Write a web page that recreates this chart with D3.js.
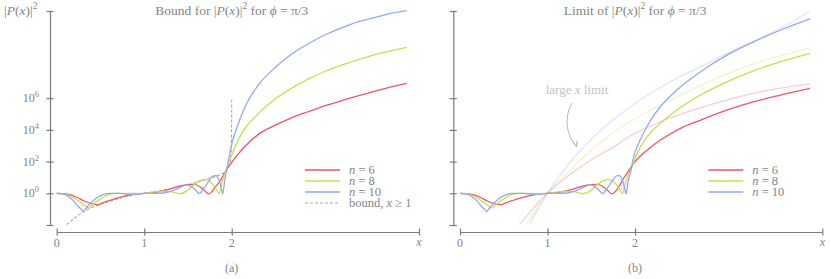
<!DOCTYPE html>
<html>
<head>
<meta charset="utf-8">
<script src="https://cdn.jsdelivr.net/npm/d3@7/dist/d3.min.js"></script>
<style>
body { margin: 0; background: #fff; }
svg text { fill: #858585; }
</style>
</head>
<body>
<script>
// points are [x, log10 |P(x)|^2]
// x < 2 part is the same in both panels
const n6Low = [[0,0],[0.11,-0.04],[0.23,-0.25],[0.32,-0.5],[0.40,-0.67],[0.46,-0.72],[0.55,-0.55],[0.69,-0.3],[0.84,-0.1],[1.0,0],[1.14,0.08],[1.26,0.22],[1.37,0.4],[1.49,0.55],[1.57,0.56],[1.64,0.4],[1.70,0.12],[1.735,-0.04],[1.77,0.08],[1.82,0.45]];
const n8Low = [[0,0],[0.1,-0.05],[0.2,-0.3],[0.29,-0.65],[0.345,-0.88],[0.36,-0.93],[0.375,-0.88],[0.42,-0.68],[0.5,-0.35],[0.59,-0.08],[0.7,0.0],[0.8,0.0],[0.9,-0.01],[1.0,0],[1.1,0.08],[1.2,0.13],[1.3,0.1],[1.41,-0.02],[1.48,0.12],[1.55,0.45],[1.62,0.75],[1.69,0.88],[1.75,0.75],[1.8,0.45],[1.835,0.15],[1.855,-0.02]];
const n10Low = [[0,0],[0.095,-0.08],[0.19,-0.46],[0.25,-0.85],[0.29,-1.06],[0.305,-1.16],[0.32,-1.06],[0.36,-0.78],[0.44,-0.36],[0.53,-0.08],[0.61,0],[0.72,0],[0.84,-0.07],[0.91,-0.07],[1.0,0],[1.1,0.0],[1.22,0.02],[1.31,0.13],[1.41,0.38],[1.49,0.53],[1.54,0.42],[1.6,0.13],[1.63,-0.02],[1.68,0.3],[1.73,0.7],[1.79,1.1],[1.82,1.12],[1.85,0.9],[1.88,0.35],[1.897,-0.04]];

// panel (a) tails
const n6TailA = [[1.87,0.8],[1.93,1.4],[2.0,1.95],[2.07,2.45],[2.15,2.95],[2.30,3.7],[2.5,4.3],[2.69,4.78],[2.88,5.16],[3.07,5.53],[3.26,5.85],[3.45,6.16],[3.64,6.44],[3.83,6.73],[4.0,6.94]];
const n8TailA = [[1.9,0.9],[1.96,1.85],[2.02,2.7],[2.11,3.75],[2.30,5.0],[2.5,5.96],[2.69,6.65],[2.88,7.22],[3.07,7.7],[3.26,8.1],[3.45,8.44],[3.64,8.75],[3.83,9.0],[4.0,9.21]];
const n10TailA = [[1.92,0.8],[1.96,2.0],[2.0,3.1],[2.06,4.16],[2.15,5.43],[2.3,6.8],[2.5,7.95],[2.69,8.8],[2.88,9.45],[3.07,10.0],[3.26,10.45],[3.45,10.83],[3.64,11.1],[3.83,11.36],[4.0,11.53]];
const bound = [[0.114,-1.98],[0.19,-1.62],[0.27,-1.3],[0.34,-1.05],[0.46,-0.78],[0.61,-0.5],[0.76,-0.25],[1.0,0],[1.22,0.21],[1.45,0.48],[1.6,0.69],[1.75,0.95],[1.87,1.18],[1.94,1.43],[1.98,1.9],[1.995,2.6],[2.0,5.9]];

// panel (b) tails
const n6TailB = [[1.87,0.95],[1.93,1.45],[1.985,1.89],[2.06,2.35],[2.14,2.73],[2.29,3.36],[2.52,4.1],[2.75,4.62],[3.055,5.26],[3.36,5.78],[3.665,6.2],[4.0,6.62]];
const n8TailB = [[1.9,0.85],[1.967,1.68],[2.024,2.52],[2.14,3.57],[2.29,4.42],[2.48,5.26],[2.75,6.2],[3.055,7.04],[3.36,7.74],[3.665,8.3],[4.0,8.83]];
const n10TailB = [[1.92,0.7],[1.947,1.3],[1.985,2.31],[2.06,3.36],[2.157,4.42],[2.29,5.46],[2.48,6.52],[2.75,7.67],[3.055,8.73],[3.36,9.57],[3.665,10.3],[4.0,11.0]];

// large x limits (panel b, faded)
const n6Limit = [[0.683,-1.94],[0.8,-1.2],[0.9,-0.55],[1.0,0],[1.2,0.95],[1.4,1.75],[1.6,2.45],[1.75,2.9],[1.91,3.5],[2.29,4.52],[2.67,5.26],[3.055,5.89],[3.44,6.41],[4.0,6.9]];
const n8Limit = [[0.764,-1.94],[0.85,-1.15],[0.93,-0.5],[1.0,0],[1.2,1.15],[1.45,2.5],[1.795,3.99],[2.18,5.26],[2.56,6.31],[2.94,7.26],[3.32,8.1],[3.7,8.73],[4.0,9.19]];
const n10Limit = [[0.80,-1.94],[0.87,-1.2],[0.94,-0.55],[1.0,0],[1.165,1.3],[1.41,2.9],[1.72,4.5],[2.06,5.89],[2.44,7.15],[2.83,8.2],[3.21,9.25],[3.59,10.2],[4.0,11.5]];

const xTicks = [0, 1, 2];
const xEnd = 4.14;
const yTickExps = [0, 2, 4, 6];
const yMinExp = -2, yMaxExp = 11.5;
const nValues = [6, 8, 10];

const colors = {6: "#ef5563", 8: "#cade4c", 10: "#93a9f2"};
const serif = "'Liberation Serif', 'Times New Roman', 'DejaVu Serif', serif";

let svg = d3.select("body")
    .append("svg")
    .attr("width", 831)
    .attr("height", 279)
    .attr("font-family", serif)
    .style("font-family", serif)

// text with italic / superscript pieces
const richText = (g, x, y, parts, anchor, size) => {
    let t = g.append("text")
        .attr("x", x)
        .attr("y", y)
        .attr("text-anchor", anchor || "start")
        .attr("font-size", size || 12)
        .style("font-family", serif)
    let raised = false;
    let lift = Math.round((size || 12) * 0.42);
    parts.forEach((p) => {
        let s = t.append("tspan").text(p[0]);
        if (p[1] === "i") s.style("font-style", "italic");
        if (p[1] === "sup") {
            s.attr("dy", -lift).attr("font-size", "0.7em");
            raised = true;
        } else if (raised) {
            s.attr("dy", lift);
            raised = false;
        }
    });
    return t;
}

const drawPanel = (left, opts) => {
    let x = d3.scaleLinear().domain([0, xEnd]).range([left + 6.7, left + 369]);
    let y = d3.scaleLog().domain([Math.pow(10, yMinExp), Math.pow(10, yMaxExp)]).range([225, 11]);
    let g = svg.append("g");

    let yAxis = g.append("g")
        .attr("transform", `translate(${left},0)`)
        .call(d3.axisLeft(y)
            .tickValues([yMinExp].concat(yTickExps, [yMaxExp]).map(e => Math.pow(10, e)))
            .tickSize(3.5)
            .tickSizeOuter(0)
            .tickFormat(""))
    yAxis.selectAll(".tick line").attr("x1", 3.5)
    yAxis.selectAll("path, line").attr("stroke", "#7a7a7a").attr("stroke-width", 1.2)

    if (opts.yLabels) {
        yTickExps.forEach((e) => {
            richText(g, left - 11, y(Math.pow(10, e)) + 4, [["10"], [String(e), "sup"]], "end", 12);
        });
        richText(g, 4, 15, [["|"], ["P", "i"], ["("], ["x", "i"], [")|"], ["2", "sup"]], "start", 13.5);
    }

    let xAxis = g.append("g")
        .attr("transform", "translate(0,232)")
        .call(d3.axisBottom(x)
            .tickValues(xTicks.concat([xEnd]))
            .tickSize(3.5)
            .tickSizeOuter(0)
            .tickFormat(""))
    xAxis.selectAll(".tick line").attr("y1", -3.5)
    xAxis.selectAll("path, line").attr("stroke", "#7a7a7a").attr("stroke-width", 1.2)
    xTicks.forEach((t) => {
        g.append("text").attr("x", x(t)).attr("y", 247).attr("text-anchor", "middle")
            .attr("font-size", 12).style("font-family", serif).text(t)
    });
    g.append("text").attr("x", x(xEnd)).attr("y", 246).attr("text-anchor", "middle")
        .attr("font-size", 12).style("font-family", serif).style("font-style", "italic").text("x")

    richText(g, (x(0) + x(xEnd)) / 2 - 6, 15, opts.title, "middle", 13.5);
    g.append("text").attr("x", x(2)).attr("y", 272).attr("text-anchor", "middle")
        .attr("font-size", 12).style("font-family", serif).text(opts.caption)

    let line = d3.line()
        .x(d => x(d[0]))
        .y(d => y(Math.pow(10, d[1])))
        .curve(d3.curveMonotoneX)

    if (opts.limits) {
        opts.limits.forEach((s) => {
            g.append("path").attr("d", line(s.data)).attr("fill", "none")
                .attr("stroke", colors[s.n]).attr("stroke-opacity", 0.3).attr("stroke-width", 1.3)
        });
    }
    if (opts.bound) {
        g.append("path").attr("d", line(opts.bound)).attr("fill", "none")
            .attr("stroke", "#a8a8a8").attr("stroke-width", 1.1).attr("stroke-dasharray", "3,2")
    }
    opts.series.forEach((s) => {
        g.append("path").attr("d", line(s.data)).attr("fill", "none")
            .attr("stroke", colors[s.n]).attr("stroke-width", 1.3)
    });

    // legend
    let lx = left + opts.legendX;
    opts.series.forEach((s, i) => {
        let ly = 170 + i * 11;
        g.append("line").attr("x1", lx).attr("x2", lx + 35).attr("y1", ly).attr("y2", ly)
            .attr("stroke", colors[s.n]).attr("stroke-width", 1.3)
        richText(g, lx + 44, ly + 4, [["n", "i"], [" = " + s.n]], "start", 12.5);
    });
    if (opts.bound) {
        let ly = 170 + 3 * 11;
        g.append("line").attr("x1", lx).attr("x2", lx + 35).attr("y1", ly).attr("y2", ly)
            .attr("stroke", "#a8a8a8").attr("stroke-width", 1.1).attr("stroke-dasharray", "3,2")
        richText(g, lx + 44, ly + 4, [["bound, "], ["x", "i"], [" ≥ 1"]], "start", 12.5);
    }
    return g;
}

drawPanel(50, {
    yLabels: true,
    title: [["Bound for |"], ["P", "i"], ["("], ["x", "i"], [")|"], ["2", "sup"], [" for "], ["ϕ", "i"], [" = π/3"]],
    caption: "(a)",
    bound: bound,
    legendX: 255,
    series: nValues.map((n, i) => ({n: n, data: [n6Low, n8Low, n10Low][i].concat([n6TailA, n8TailA, n10TailA][i])}))
});

let right = drawPanel(453.3, {
    yLabels: false,
    title: [["Limit of |"], ["P", "i"], ["("], ["x", "i"], [")|"], ["2", "sup"], [" for "], ["ϕ", "i"], [" = π/3"]],
    caption: "(b)",
    legendX: 255,
    limits: nValues.map((n, i) => ({n: n, data: [n6Limit, n8Limit, n10Limit][i]})),
    series: nValues.map((n, i) => ({n: n, data: [n6Low, n8Low, n10Low][i].concat([n6TailB, n8TailB, n10TailB][i])}))
});

// annotation
let note = richText(right, 577, 94, [["large "], ["x", "i"], [" limit"]], "middle", 13)
note.selectAll("tspan").style("fill", "#c4c4c4")
right.append("path")
    .attr("d", "M572,103 C565,115 565,132 575,145")
    .attr("fill", "none").attr("stroke", "#b5b5b5").attr("stroke-width", 1)
right.append("path")
    .attr("d", "M572.5,141.5 L576.5,147 L577,140.5")
    .attr("fill", "none").attr("stroke", "#b5b5b5").attr("stroke-width", 1)
</script>
</body>
</html>
